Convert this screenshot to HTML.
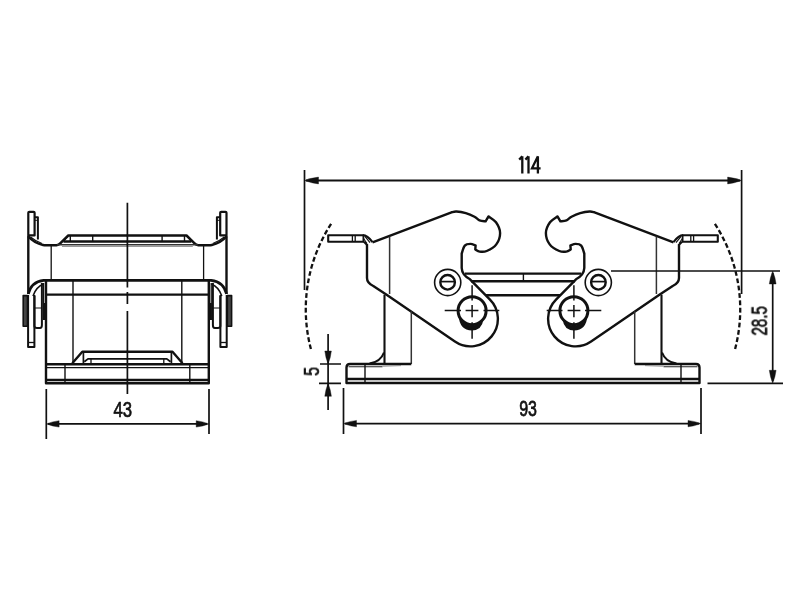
<!DOCTYPE html>
<html><head><meta charset="utf-8">
<style>
html,body{margin:0;padding:0;background:#fff;}
body{width:800px;height:601px;overflow:hidden;}
svg{display:block;}
text{font-family:"Liberation Sans",sans-serif;fill:#111;}
</style></head>
<body>
<svg width="800" height="601" viewBox="0 0 800 601">
<g fill="none" stroke="#111" stroke-linecap="butt" stroke-linejoin="round">

<!-- ===== RIGHT VIEW: left half (mirrored for right half) ===== -->
<g id="half">
  <!-- tab -->
  <path d="M363.5,235.2 L328.2,235.2 L328.2,241.7 L364,241.7" stroke-width="2.1"/>
  <path d="M352.4,235.5 V241.4 M355.2,235.5 V241.4" stroke-width="1.3"/>
  <path d="M362.8,235.2 Q367.5,235.4 372.5,242.2" stroke-width="2.2"/><path d="M364,241.7 L367.5,245.2" stroke-width="2.2"/><path d="M365.3,236.8 L370,242.6 M363.6,238.5 L366.8,243.2" stroke-width="1.1"/>
  <path d="M363.4,235.5 V241.4" stroke-width="1.8"/>
  <!-- lever outline -->
  <path d="M372.5,242.4 L451.5,212.3 C452.32,212.17 454.07,211.35 456.45,211.50 C458.83,211.65 462.79,212.32 465.80,213.20 C468.81,214.08 472.22,215.62 474.50,216.80 C476.78,217.98 477.65,219.53 479.50,220.30 C481.35,221.07 484.58,221.22 485.60,221.40 L488.5,216.4 C489.75,217.38 494.07,219.55 496.00,222.30 C497.93,225.05 500.05,229.22 500.10,232.90 C500.15,236.58 498.53,241.38 496.30,244.40 C494.07,247.42 489.47,249.80 486.70,251.00 C483.93,252.20 481.60,251.87 479.70,251.60 C477.80,251.33 476.03,249.77 475.30,249.40 L475.6,245.4 C474.73,245.15 472.20,243.87 470.40,243.90 C468.60,243.93 466.25,244.00 464.80,245.60 C463.35,247.20 462.22,252.18 461.70,253.50 L461.7,268 Q462,275 470,279.3 L489.75,299.35 A27.5,27.5 0 0 1 454.9,341.6 L386.6,294.7 L373.3,286 Q367,283 367,278 L367,244.5" stroke-width="2.4"/>
  <!-- thin verticals -->
  <path d="M389.6,236.5 V294" stroke="#333" stroke-width="1.5"/>
  <path d="M411.3,311.3 V364" stroke="#333" stroke-width="1.5"/>
  <!-- thick body vertical with fillet -->
  <path d="M384.5,294.7 V364" stroke-width="2.1"/><path d="M384,352.5 Q380.5,362 369.5,363.5" stroke-width="2.1"/>
  <!-- base plate -->
  <path d="M411.3,364 L350,364 Q346.5,364 346.5,367.5 L346.5,383 L523,383" stroke-width="2.4"/>
  <path d="M346.5,379 H523" stroke-width="2.4"/>
  <path d="M348.5,366.7 H382.5" stroke="#222" stroke-width="1.1"/><path d="M382.5,366.2 L401,365.6" stroke="#888" stroke-width="1"/>
  <path d="M365,364.5 V383" stroke-width="1.4"/>
  <!-- small screw -->
  <circle cx="447.7" cy="282.5" r="13.1" stroke-width="1.6"/>
  <circle cx="447.6" cy="282.3" r="7.3" stroke-width="2.4"/>
  <path d="M440.5,281.6 H455.2" stroke-width="1.7"/>
  <!-- bolt -->
  <circle cx="472.1" cy="310.65" r="14" stroke-width="3"/>
  <path d="M458.6,315.4 Q459.5,330.2 472,330.4 Q482,330.2 483.4,319.5 A14,14 0 0 1 458.6,315.4 Z" fill="#111" stroke="none"/>
  <path d="M444.7,310.6 H461 M465.6,310.6 H478.4 M483.5,310.6 H499.3" stroke-width="1.5"/>
  <path d="M472.1,285.3 V300.5 M472.1,305 V317.3 M472.1,322.2 V338.7" stroke-width="1.5"/>
  <!-- center bar lines -->
  <path d="M465,273.6 H523" stroke-width="2.4"/>
  <path d="M471,281.3 H523" stroke-width="2.4"/>
  <path d="M486,295.2 H523" stroke-width="2.4"/>
  <!-- dashed arc -->
  <path d="M331.1,223.9 A156.5,156.5 0 0 0 310.9,349" stroke-width="2.3" stroke-dasharray="4.8 2.6"/>
</g>
<use href="#half" transform="translate(1046,0) scale(-1,1)"/>
<path d="M523.4,273.6 V281.3" stroke-width="1.4"/>

<!-- dimension lines right view -->
<path d="M304.5,170 V290" stroke-width="1.7"/>
<path d="M741.6,170 V294" stroke-width="1.7"/>
<path d="M306,180.5 H740" stroke-width="1.8"/>
<path d="M611,271 H780" stroke-width="1.7"/>
<path d="M707.5,383.3 H783" stroke-width="1.7"/>
<path d="M772.7,273 V381" stroke-width="1.7"/>
<path d="M343.5,388 V434" stroke-width="1.7"/>
<path d="M701,388 V434" stroke-width="1.7"/>
<path d="M345,423.6 H699" stroke-width="1.7"/>
<path d="M328.1,334 V410" stroke-width="1.7"/>
<path d="M320,364 H341 M319,383.3 H341" stroke-width="1.7"/>
</g>
<!-- arrowheads -->
<g fill="#111" stroke="#111" stroke-width="0.4">
  <path d="M304.50,180.50 Q311.50,183.10 318.50,183.90 L318.50,177.10 Q311.50,177.90 304.50,180.50 Z"/>
  <path d="M741.60,180.50 Q734.60,177.90 727.60,177.10 L727.60,183.90 Q734.60,183.10 741.60,180.50 Z"/>
  <path d="M772.70,271.00 Q770.10,277.50 769.30,284.00 L776.10,284.00 Q775.30,277.50 772.70,271.00 Z"/>
  <path d="M772.70,383.30 Q775.30,376.80 776.10,370.30 L769.30,370.30 Q770.10,376.80 772.70,383.30 Z"/>
  <path d="M343.50,423.60 Q350.00,426.10 356.50,426.80 L356.50,420.40 Q350.00,421.10 343.50,423.60 Z"/>
  <path d="M701.00,423.60 Q694.50,421.10 688.00,420.40 L688.00,426.80 Q694.50,426.10 701.00,423.60 Z"/>
  <path d="M328.10,364.00 Q330.65,357.50 331.40,351.00 L324.80,351.00 Q325.55,357.50 328.10,364.00 Z"/>
  <path d="M328.10,383.30 Q325.55,389.80 324.80,396.30 L331.40,396.30 Q330.65,389.80 328.10,383.30 Z"/>
  <path d="M46.30,423.90 Q52.70,426.40 59.10,427.10 L59.10,420.70 Q52.70,421.40 46.30,423.90 Z"/>
  <path d="M209.00,423.90 Q202.60,421.40 196.20,420.70 L196.20,427.10 Q202.60,426.40 209.00,423.90 Z"/>
</g>

<!-- texts -->
<g stroke="#111" stroke-width="0.75" style="opacity:0.999">
<path d="M522.3,156.3 V173.6 M519.2,159.6 L522.3,156.3 M528.5,156.3 V173.6 M525.4,159.6 L528.5,156.3 M537.9,156.3 V173.6 M537.9,156.3 L532,168.3 H540.6" fill="none" stroke-width="2.3" stroke-linejoin="miter"/>
<text x="0" y="0" font-size="22.6" transform="translate(519.2,416) scale(0.71,1)">93</text>
<text x="0" y="0" font-size="22.6" transform="translate(113.5,417) scale(0.74,1)">43</text>
<text x="0" y="0" font-size="21.8" transform="translate(319,375.8) rotate(-90) scale(0.72,1)">5</text>
<text x="0" y="0" font-size="22.3" transform="translate(766.8,335.6) rotate(-90) scale(0.68,1)">28.5</text>
</g>

<!-- ===== LEFT VIEW ===== -->
<g fill="none" stroke="#111" stroke-linejoin="round">
 <g id="lhalf">
  <!-- cap tab -->
  <path d="M28.3,236 V212.8 Q28.3,211.8 29.3,211.8 H33.6 Q34.6,211.8 34.6,212.8 V235.4 H28.3" stroke-width="2.2"/>
  <path d="M34.6,217.3 H37.9 V239.5" stroke-width="2"/>
  <path d="M34.6,220.3 H37.9" stroke-width="1"/>
  <!-- body edge -->
  <path d="M28.3,236 V294" stroke-width="2.4"/>
  <!-- cap profile -->
  <path d="M28.3,236.5 C31,239.5 36,243.5 43,244.9 Q44.5,245.2 46,245.2 H56.5 Q58.5,245.2 60.5,243.2 L68.3,235.5 H128" stroke-width="2.5"/>
  <path d="M30.5,237 Q36,241.5 42,243.5" stroke-width="1.2"/>
  <path d="M63.5,241.5 H128" stroke-width="2.4"/>
  <path d="M57,244.7 H128" stroke="#333" stroke-width="1.4"/><path d="M62,246.5 H128" stroke="#999" stroke-width="1"/>
  <path d="M70.3,235.5 V241.5 M92.7,235.5 V241.5" stroke-width="1.4"/><path d="M67.5,236.5 L64,241" stroke-width="1"/>
  <path d="M51.2,245 V280" stroke-width="1.3"/>
  <!-- cover -->
  <path d="M128,280.4 H43.7 Q31,282 28.3,294" stroke-width="2.6"/>
  <path d="M43.5,284 Q36,287 33,296" stroke-width="1.6"/>
  <path d="M46.3,294.6 H128" stroke-width="2.2"/>
  <path d="M46,280.4 V383.2 H128" stroke-width="2.4"/>
  <path d="M73,280.4 V363" stroke-width="1.4"/>
  <path d="M46,364.2 H128" stroke-width="2.4"/>
  <path d="M46,367.6 H128" stroke-width="1.1"/>
  <path d="M46,380 H128" stroke-width="2.4"/>
  <path d="M65,364.2 V383" stroke-width="1.4"/>
  <!-- recess -->
  <path d="M72.3,363.3 L82.3,351.8 H128" stroke-width="2.4"/>
  <path d="M83.4,352 V363" stroke-width="1.7"/>
  <path d="M84.3,361.8 L88,358.9 H128" stroke-width="1.8"/><path d="M91,358.9 V363.5" stroke-width="1.3"/>
  <!-- side clip -->
  <rect x="23.2" y="295.6" width="4.3" height="30.6" fill="#444" stroke-width="1.6"/>
  <path d="M28.1,295 V346.9 H34.4 V295" stroke-width="2"/>
  <path d="M28.1,342.5 H34.4" stroke-width="1.3"/>
  <path d="M34.4,296 V326 Q34.4,328 37,328 H40 Q41.9,328 41.9,325 V283" stroke-width="2"/>
  <path d="M34.4,308 H41.9" stroke-width="1"/>
  <path d="M43.6,283 V320" stroke-width="1.3"/>
  <path d="M44.2,303 V320" stroke-width="2.4"/>
 </g>
 <use href="#lhalf" transform="translate(254.8,0) scale(-1,1)"/>
  <!-- center line -->
  <path d="M127.4,202.7 V287.5 M127.4,292 V304 M127.4,311 V394" stroke-width="1.7"/>
  <!-- dims -->
  <path d="M46.3,389 V439 M209,389 V434" stroke-width="1.7"/>
  <path d="M48,423.9 H207" stroke-width="1.7"/>
</g>
</svg>
</body></html>
